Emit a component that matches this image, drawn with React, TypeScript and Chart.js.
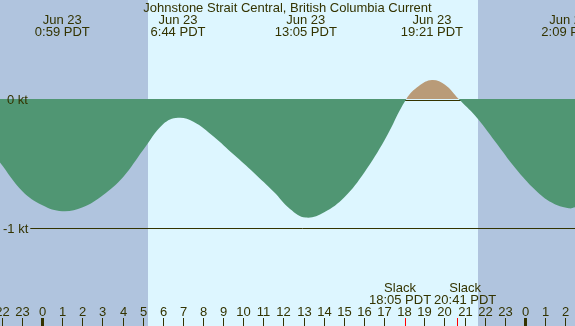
import React, { useEffect, useRef } from "react";
import { Chart, registerables } from "chart.js";

Chart.register(...registerables);

// Hours relative to Jun 23 00:00 PDT, current in knots (negative = ebb)
const hours = [-2.12, -1, 0, 0.98, 2, 3, 4, 5, 6, 6.73, 7.5, 8.5, 9.5, 10.5, 11.5, 12.3, 13.08, 14, 15, 16, 17, 18.08, 18.7, 19.35, 20, 20.68, 21.5, 22.5, 23.5, 24.5, 25.3, 26.15, 26.5];
const knots = [-0.49, -0.713, -0.822, -0.868, -0.837, -0.744, -0.605, -0.395, -0.194, -0.145, -0.175, -0.29, -0.43, -0.57, -0.72, -0.85, -0.917, -0.876, -0.76, -0.566, -0.318, 0, 0.1, 0.147, 0.11, 0, -0.13, -0.33, -0.535, -0.705, -0.8, -0.845, -0.837];

const title = "Johnstone Strait Central, British Columbia Current";
const eventHours = [0.983, 6.733, 13.083, 19.35, 26.15];
const eventDates = ["Jun 23", "Jun 23", "Jun 23", "Jun 23", "Jun 24"];
const eventTimes = ["0:59 PDT", "6:44 PDT", "13:05 PDT", "19:21 PDT", "2:09 PDT"];
const slackHours = [18.083, 20.683];
const slackTimes = ["18:05 PDT", "20:41 PDT"];
const sunriseHour = 5.23;
const sunsetHour = 21.65;
const tickHours = Array.from({ length: 29 }, (_, i) => i - 2);
const yTickValues = [0, -1];
const yTickLabels = ["0 kt", "-1 kt"];

const X_MIN = -2.112;
const X_MAX = 26.46;
const Y_MIN = -1.7556;
const Y_MAX = 0.7657;

const TEXT = "#333300";
const NIGHT = "#b0c4de";
const DAY = "#ddf6ff";
const EBB = "#509673";
const FLOOD = "#b99b78";
const FONT = '13px "Liberation Sans", Arial, sans-serif';

const decor = {
  id: "decor",
  beforeDatasetsDraw(chart: any) {
    const { ctx, width, height } = chart;
    const x = chart.scales.x;
    const y = chart.scales.y;
    ctx.save();
    ctx.fillStyle = DAY;
    ctx.fillRect(0, 0, width, height);
    ctx.fillStyle = NIGHT;
    const sr = Math.round(x.getPixelForValue(sunriseHour));
    const ss = Math.round(x.getPixelForValue(sunsetHour));
    ctx.fillRect(0, 0, sr, height);
    ctx.fillRect(ss, 0, width - ss, height);
    // zero line
    ctx.strokeStyle = TEXT;
    ctx.lineWidth = 1;
    const y0 = Math.round(y.getPixelForValue(0)) + 1.5;
    ctx.beginPath();
    ctx.moveTo(0, y0);
    ctx.lineTo(width, y0);
    ctx.stroke();
    ctx.restore();
  },
  afterDatasetsDraw(chart: any) {
    const { ctx, width, height } = chart;
    const x = chart.scales.x;
    const y = chart.scales.y;
    ctx.save();
    ctx.font = FONT;
    ctx.fillStyle = TEXT;
    ctx.textBaseline = "alphabetic";
    // y labels and -1 line
    yTickValues.forEach((v, i) => {
      const py = y.getPixelForValue(v);
      ctx.textAlign = "left";
      const lx = v === 0 ? 7 : 3;
      ctx.fillText(yTickLabels[i], lx, Math.round(py) + 5);
      if (v !== 0) {
        const w = ctx.measureText(yTickLabels[i]).width;
        ctx.strokeStyle = TEXT;
        ctx.lineWidth = 1;
        ctx.beginPath();
        ctx.moveTo(lx + w + 2, Math.round(py) + 0.5);
        ctx.lineTo(width, Math.round(py) + 0.5);
        ctx.stroke();
      }
    });
    // title
    ctx.textAlign = "center";
    ctx.fillText(title, width / 2, 12);
    // events
    eventHours.forEach((h, i) => {
      const px = x.getPixelForValue(h);
      ctx.fillText(eventDates[i], px, 24);
      ctx.fillText(eventTimes[i], px, 36);
    });
    // slack labels with collision push
    const sx = slackHours.map((h) => x.getPixelForValue(h));
    const sw = slackTimes.map((t) => ctx.measureText(t).width);
    const need = (sw[0] + sw[1]) / 2 + 3;
    if (sx[1] - sx[0] < need) {
      const d = (need - (sx[1] - sx[0])) / 2;
      sx[0] -= d;
      sx[1] += d;
    }
    slackTimes.forEach((t, i) => {
      ctx.fillText("Slack", sx[i], 292);
      ctx.fillText(t, sx[i], 304);
    });
    // hour ticks
    const slackPx = slackHours.map((h) => Math.floor(x.getPixelForValue(h)) - 1);
    tickHours.forEach((h) => {
      const px = Math.floor(x.getPixelForValue(h));
      const lab = String(((h % 24) + 24) % 24);
      ctx.fillStyle = TEXT;
      ctx.fillText(lab, px + 0.5, 316);
      if (slackPx.some((s) => Math.abs(s - px) < 3)) return;
      if (lab === "0") ctx.fillRect(px - 1, 318, 3, height - 318);
      else ctx.fillRect(px, 318, 1, height - 318);
    });
    ctx.fillStyle = "#ff0000";
    slackPx.forEach((px) => {
      ctx.fillRect(px, 318, 1, height - 318);
    });
    ctx.restore();
  },
};

export default function App() {
  const ref = useRef<HTMLCanvasElement>(null);
  useEffect(() => {
    const chart = new Chart(ref.current!, {
      type: "line",
      data: {
        datasets: [
          {
            data: hours.map((h, i) => ({ x: h, y: knots[i] })),
            borderWidth: 0,
            borderColor: "rgba(0,0,0,0)",
            pointRadius: 0,
            tension: 0.4,
            fill: { target: "origin", above: FLOOD, below: EBB },
          } as any,
        ],
      },
      options: {
        responsive: false,
        animation: false,
        layout: { padding: 0 },
        plugins: { legend: { display: false }, tooltip: { enabled: false }, title: { display: false } },
        scales: {
          x: { type: "linear", min: X_MIN, max: X_MAX, display: false },
          y: { type: "linear", min: Y_MIN, max: Y_MAX, display: false },
        },
      },
      plugins: [decor],
    });
    return () => chart.destroy();
  }, []);
  return (
    <div style={{ position: "fixed", left: 0, top: 0, width: 575, height: 326 }}>
      <canvas ref={ref} width={575} height={326} style={{ display: "block" }} />
    </div>
  );
}
